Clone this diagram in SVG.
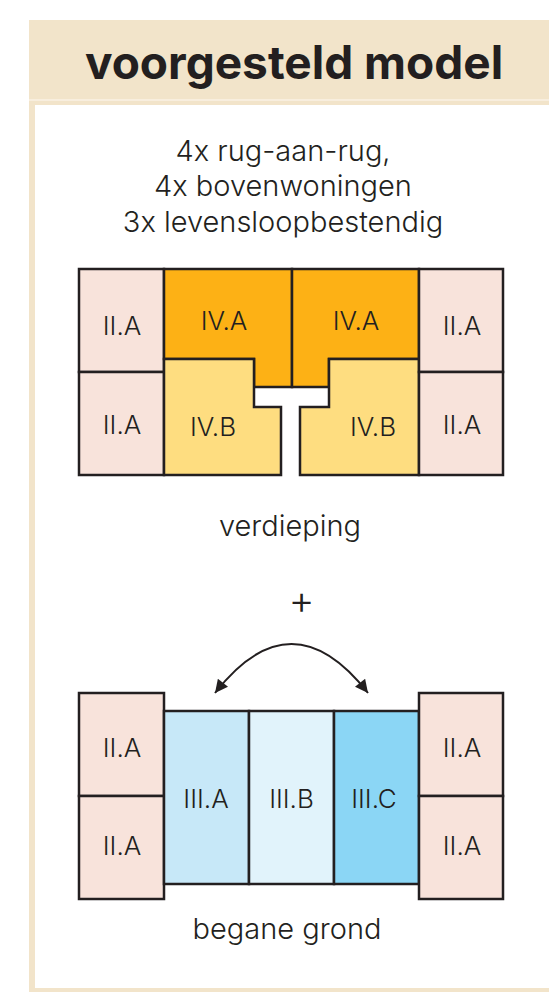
<svg xmlns="http://www.w3.org/2000/svg" width="549" height="993" viewBox="0 0 549 993">
<defs>
<style>
.t{font-family:Inter,"Liberation Sans",Arial,sans-serif;fill:#231F20;text-anchor:middle}
.lbl{font-size:26px;font-weight:300}
.sub{font-size:29px;font-weight:300}
.ttl{font-size:46px;font-weight:bold}
.b{stroke:#231F20;stroke-width:2.5;stroke-linejoin:miter}
.pk{fill:#F8E3DB}
.ia{fill:#FDB115}
.ib{fill:#FEDD80}
.ta{fill:#C7E8F8}
.tb{fill:#E1F3FB}
.tc{fill:#8BD6F5}
</style>
<marker id="ah" viewBox="0 0 10 10" refX="10" refY="5" markerUnits="userSpaceOnUse" markerWidth="15" markerHeight="13" orient="auto-start-reverse">
<path d="M0,0 L10,5 L0,10 z" fill="#231F20"/>
</marker>
</defs>
<g id="frame">
<rect x="29" y="20" width="520" height="972" fill="#F2E4CA"/>
<line x1="29" y1="100" x2="549" y2="100" stroke="#F8EEDE" stroke-width="2"/>
<rect x="35" y="105" width="514" height="883" fill="#FFFFFF"/>
</g>
<text class="t ttl" x="294" y="79">voorgesteld model</text>
<g id="subtitle">
<text class="t sub" x="283" y="161">4x rug-aan-rug,</text>
<text class="t sub" x="283" y="196">4x bovenwoningen</text>
<text class="t sub" x="283" y="232">3x levensloopbestendig</text>
</g>
<g id="verdieping">
<g id="v-iia-tl"><rect class="b pk" x="79" y="269" width="85" height="103"/><text class="t lbl" x="122" y="335">II.A</text></g>
<g id="v-iia-bl"><rect class="b pk" x="79" y="372" width="85" height="103"/><text class="t lbl" x="122" y="434">II.A</text></g>
<g id="v-iva-l"><path class="b ia" d="M164,269 H292 V387 H254 V359 H164 Z"/><text class="t lbl" x="224" y="330">IV.A</text></g>
<g id="v-iva-r"><path class="b ia" d="M292,269 H419 V359 H329 V387 H292 Z"/><text class="t lbl" x="356" y="330">IV.A</text></g>
<g id="v-ivb-l"><path class="b ib" d="M164,359 H254 V407 H281 V475 H164 Z"/><text class="t lbl" x="213" y="436">IV.B</text></g>
<g id="v-ivb-r"><path class="b ib" d="M329,359 H419 V475 H300 V407 H329 Z"/><text class="t lbl" x="373" y="436">IV.B</text></g>
<g id="v-iia-tr"><rect class="b pk" x="419" y="269" width="84" height="103"/><text class="t lbl" x="462" y="335">II.A</text></g>
<g id="v-iia-br"><rect class="b pk" x="419" y="372" width="84" height="103"/><text class="t lbl" x="462" y="434">II.A</text></g>
</g>
<text class="t sub" x="290" y="536">verdieping</text>
<text class="t" x="301.5" y="614" style="font-size:40px;font-weight:300">+</text>
<g id="connectors">
<path d="M215,693 Q291.5,595 368,693" fill="none" stroke="#231F20" stroke-width="2" marker-start="url(#ah)" marker-end="url(#ah)"/>
</g>
<g id="begane-grond">
<g id="b-iia-tl"><rect class="b pk" x="79" y="693" width="85" height="103"/><text class="t lbl" x="122" y="757">II.A</text></g>
<g id="b-iia-bl"><rect class="b pk" x="79" y="796" width="85" height="103"/><text class="t lbl" x="122" y="855">II.A</text></g>
<g id="b-iiia"><rect class="b ta" x="164" y="711" width="85" height="173"/><text class="t lbl" x="206" y="808">III.A</text></g>
<g id="b-iiib"><rect class="b tb" x="249" y="711" width="85" height="173"/><text class="t lbl" x="291.5" y="808">III.B</text></g>
<g id="b-iiic"><rect class="b tc" x="334" y="711" width="85" height="173"/><text class="t lbl" x="374" y="808">III.C</text></g>
<g id="b-iia-tr"><rect class="b pk" x="419" y="693" width="84" height="103"/><text class="t lbl" x="462" y="757">II.A</text></g>
<g id="b-iia-br"><rect class="b pk" x="419" y="796" width="84" height="103"/><text class="t lbl" x="462" y="855">II.A</text></g>
</g>
<text class="t sub" x="287" y="939">begane grond</text>
</svg>
